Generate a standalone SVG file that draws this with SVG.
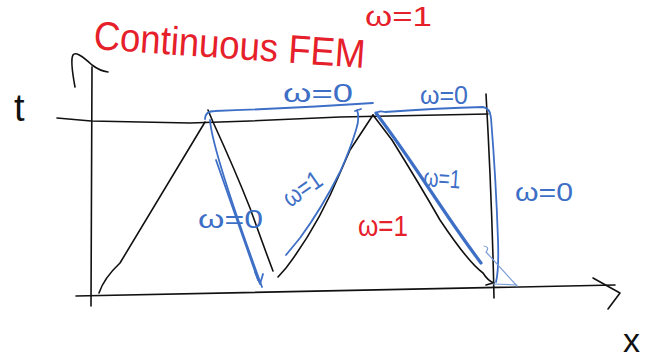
<svg xmlns="http://www.w3.org/2000/svg" width="657" height="364" viewBox="0 0 657 364">
<style>
.k{fill:none;stroke:#111;stroke-width:1.6;stroke-linecap:round;stroke-linejoin:round}
.b{fill:none;stroke:#3e6fc6;stroke-width:1.8;stroke-linecap:round;stroke-linejoin:round}
.bt{fill:none;stroke:#3e6fc6;stroke-width:3.2;stroke-linecap:round}
.bl{fill:none;stroke:#7c9fd8;stroke-width:1.2;stroke-linecap:round}
.tb{font-family:"Liberation Sans","DejaVu Sans",sans-serif;fill:#3e6fc6;font-size:26px}
.tr{font-family:"Liberation Sans","DejaVu Sans",sans-serif;fill:#e6202a}
.tk{font-family:"Liberation Sans","DejaVu Sans",sans-serif;fill:#111}
</style>
<rect width="657" height="364" fill="#fff"/>
<g id="axes">
<path class="k" d="M91,306 L92,67"/>
<path class="k" d="M75,87 Q70,60 73,55 Q76,50 92,65 Q100,71 108,72"/>
<path class="k" d="M76,296 Q300,291 615,285"/>
<path class="k" d="M593,278 L620,293 L608,309"/>
<path class="k" d="M57,118 L91,121 L190,123 L250,121 L340,117 L488,114"/>
<path class="k" d="M486,94 Q492,200 494,298"/>
</g>
<g id="curves-black">
<path class="k" d="M99,293 Q104,278 120,263 L205,122"/>
<path class="k" d="M208,110 L213,122 Q235,170 250,208 Q265,250 273,271"/>
<path class="k" d="M278,277 L286,268 Q318,226 340,173 L350,150 L373,115"/>
<path class="k" d="M373,115 L392,140 Q420,185 440,220 Q468,262 483,273 Q488,281 494,283 M486,285 L493,283"/>
</g>
<g id="connectors">
<path class="b" d="M205,119 Q205,111 215,111 Q300,108 373,103"/>
<path class="b" d="M210,120 Q212,150 262,287"/>
<path class="b" d="M216,160 L258,280"/>
<path class="b" d="M255,272 L260,284 L263,274"/>
<path class="b" d="M286,255 L300,238 Q322,208 340,172 Q350,150 356,130 Q360,118 357,110 M355,111 L361,109"/>
<path class="b" d="M376,114 Q378,110 385,112 Q440,108 483,107 Q490,108 491,118 Q496,180 498,240 Q499,270 496,282"/>
<path class="bt" d="M376,113 Q400,145 430,190 Q460,235 481,263"/>
<path class="bl" d="M484,246 Q490,247 486,252 Q498,265 517,286 M493,284 L517,285"/>
</g>
<g id="labels">
<text class="tr" x="93" y="49" font-size="40" textLength="272" lengthAdjust="spacingAndGlyphs" transform="rotate(4 93 49)">Continuous FEM</text>
<text class="tr" x="365" y="26" font-size="27" textLength="67" lengthAdjust="spacingAndGlyphs">ω=1</text>
<text class="tk" x="14" y="121" font-size="38">t</text>
<text class="tk" x="623" y="352" font-size="34">x</text>
<text class="tb" x="283" y="102" textLength="70" lengthAdjust="spacingAndGlyphs">ω=0</text>
<text class="tb" x="420" y="104" textLength="48" lengthAdjust="spacingAndGlyphs">ω=0</text>
<text class="tb" x="198" y="228" textLength="65" lengthAdjust="spacingAndGlyphs">ω=0</text>
<text class="tb" x="290" y="208" textLength="42" lengthAdjust="spacingAndGlyphs" transform="rotate(-35 290 208)">ω=1</text>
<text class="tb" x="423" y="186" font-size="28" textLength="37" lengthAdjust="spacingAndGlyphs" transform="rotate(4 423 186)">ω=1</text>
<text class="tb" x="515" y="201" textLength="58" lengthAdjust="spacingAndGlyphs">ω=0</text>
<text class="tr" x="358" y="236" font-size="30" textLength="50" lengthAdjust="spacingAndGlyphs">ω=1</text>
</g>
</svg>
